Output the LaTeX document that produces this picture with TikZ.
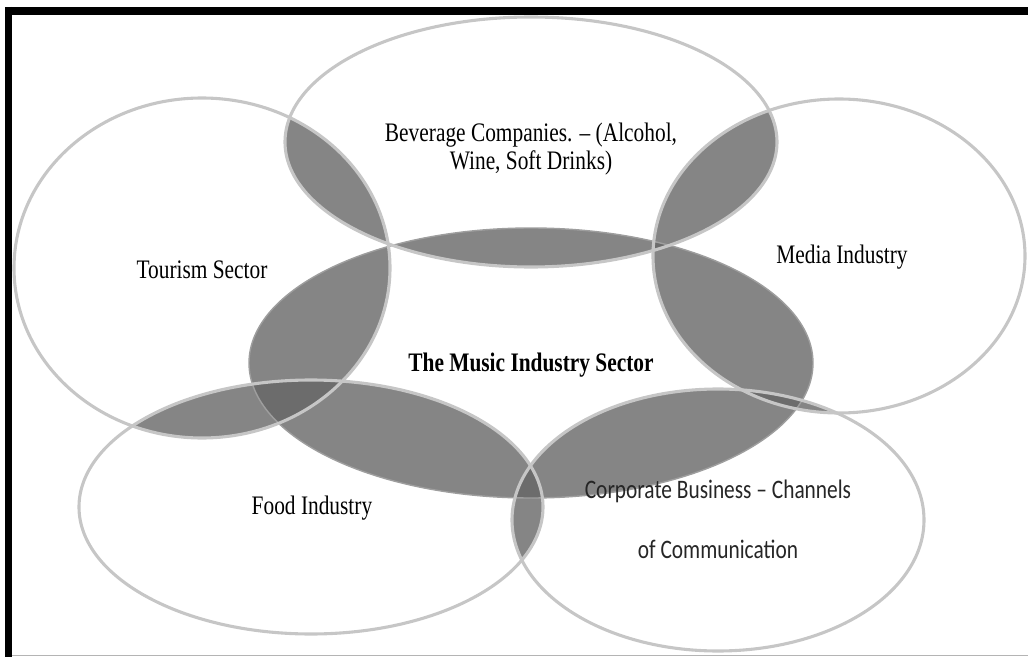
\documentclass[tikz,border=0pt]{standalone}
\usepackage{fontspec}
\setmainfont{Liberation Serif}[FakeStretch=0.8]
\newfontfamily\calibrifont{Carlito}[FakeStretch=0.8]

\definecolor{ringgray}{HTML}{C6C6C6}
\definecolor{lensgray}{HTML}{858585}
\definecolor{coregray}{HTML}{6C6C6C}
\definecolor{framegray}{HTML}{B4B4B4}

% the six sectors, in pixel units
\newcommand\musicring{(531,-363) ellipse [x radius=282, y radius=135]}
\newcommand\tourismring{(202,-268) ellipse [x radius=188, y radius=170]}
\newcommand\beveragering{(531,-142) ellipse [x radius=246, y radius=125]}
\newcommand\mediaring{(839,-256) ellipse [x radius=186, y radius=157]}
\newcommand\foodring{(311,-507) ellipse [x radius=232, y radius=127]}
\newcommand\corpring{(718,-520) ellipse [x radius=206, y radius=131]}

\begin{document}
\begin{tikzpicture}[x=0.025cm, y=0.025cm]
	\tikzset{ring/.style = {draw=ringgray, line width=2.2pt},
		tag/.style = {inner sep=0pt, align=center, text=black, font=\fontsize{19}{19.5}\selectfont}}

	\useasboundingbox (0,0) rectangle (1028,-657);

	% overlaps of two sectors
	\foreach \p/\q in {\musicring/\tourismring, \musicring/\beveragering, \musicring/\mediaring,
		\musicring/\foodring, \musicring/\corpring, \tourismring/\beveragering,
		\beveragering/\mediaring, \tourismring/\foodring, \foodring/\corpring, \mediaring/\corpring}{
		\begin{scope}
			\clip \p;
			\fill[lensgray] \q;
		\end{scope}
	}

	% overlaps of three sectors
	\foreach \p/\q/\r in {\musicring/\tourismring/\foodring, \musicring/\foodring/\corpring,
		\musicring/\mediaring/\corpring, \musicring/\tourismring/\beveragering,
		\musicring/\beveragering/\mediaring}{
		\begin{scope}
			\clip \p;
			\clip \q;
			\fill[coregray] \r;
		\end{scope}
	}

	\draw[ring, line width=1pt, draw=ringgray!80!black] \musicring;
	\draw[ring] \tourismring;
	\draw[ring] \beveragering;
	\draw[ring] \mediaring;
	\draw[ring] \foodring;
	\draw[ring] \corpring;

	\node[tag] (beverage) at (531,-149) {Beverage Companies. – (Alcohol,\\Wine, Soft Drinks)};
	\node[tag] (tourism) at (202,-270) {Tourism Sector};
	\node[tag] (media) at (842,-257) {Media Industry};
	\node[tag, font=\bfseries\fontsize{19}{19.5}\selectfont] (music) at (531,-365) {The Music Industry Sector};
	\node[tag] (food) at (312,-508) {Food Industry};
	\node[tag, text=black!85, font=\calibrifont\fontsize{19}{42.5}\selectfont] (corporate) at (718,-519)
		{Corporate Business – Channels\\of Communication};

	% frame
	\draw[line width=0.2cm] (5,-11) -- (1028,-11);
	\draw[line width=0.175cm] (8.5,-7) -- (8.5,-657);
	\draw[framegray, line width=0.04cm] (12,-655.5) -- (1028,-655.5);
\end{tikzpicture}
\end{document}
